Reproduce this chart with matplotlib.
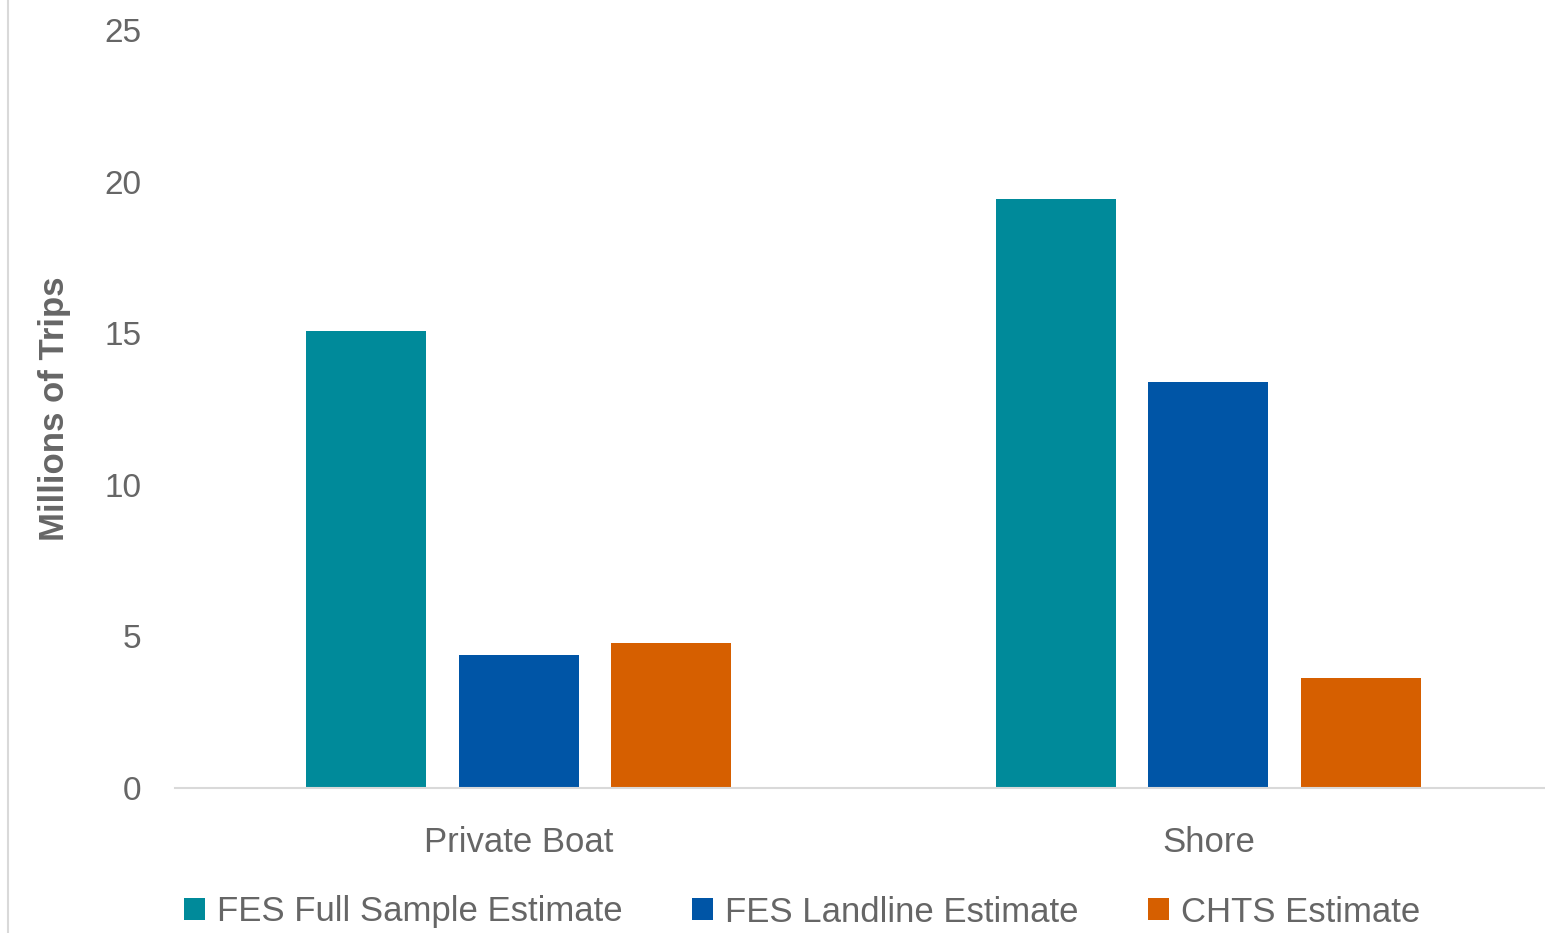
import matplotlib
matplotlib.use("Agg")
import matplotlib.pyplot as plt
import numpy as np
from matplotlib.lines import Line2D
from matplotlib.patches import Patch

plt.rcParams["font.family"] = ["Liberation Sans", "DejaVu Sans"]

categories = ["Private Boat", "Shore"]
series_names = ["FES Full Sample Estimate", "FES Landline Estimate", "CHTS Estimate"]
fes_full = [15.07, 19.43]
fes_landline = [4.39, 13.39]
chts = [4.78, 3.63]
colors = ["#008A9A", "#0055A6", "#D65F00"]
yticks = [0, 5, 10, 15, 20, 25]

text_color = "#666666"

fig = plt.figure(figsize=(15.45, 9.33), dpi=100)
ax = fig.add_axes([175 / 1545, 1 - 788 / 933, 1370 / 1545, (788 - 30) / 933])

x = np.arange(len(categories))
width = 0.174
offset = 0.221
for i, (vals, name, c) in enumerate(zip([fes_full, fes_landline, chts], series_names, colors)):
    ax.bar(x + (i - 1) * offset, vals, width=width, color=c, label=name, zorder=2)

ax.set_xlim(-0.498, 1.488)
ax.set_ylim(0, 25)
ax.set_yticks(yticks)
ax.set_yticklabels([str(t) for t in yticks])
ax.set_xticks(x)
ax.set_xticklabels(categories)
ax.tick_params(axis="y", length=0, pad=24, labelsize=24, labelcolor=text_color)
ax.tick_params(axis="x", length=0, pad=27, labelsize=25, labelcolor=text_color)

for s in ["top", "right", "left"]:
    ax.spines[s].set_visible(False)
ax.spines["bottom"].set_color("#D9D9D9")
ax.spines["bottom"].set_linewidth(1.5)

ax.set_ylabel("Millions of Trips", fontsize=25, fontweight="bold", color=text_color, labelpad=24)

# thin border line at left edge
fig.add_artist(Line2D([8 / 1545, 8 / 1545], [0, 1], transform=fig.transFigure,
                      color="#D9D9D9", linewidth=1.5))

handles = [Patch(facecolor=c, edgecolor="none") for c in colors]
leg = fig.legend(handles, series_names, loc="center left", bbox_to_anchor=(170 / 1545, 1 - 912 / 933),
                 ncol=3, frameon=False, fontsize=25, handlelength=0.6, handleheight=0.6,
                 handletextpad=0.35, columnspacing=2.0, borderaxespad=0)
for t in leg.get_texts():
    t.set_color(text_color)

fig.savefig("out.png", dpi=100)
